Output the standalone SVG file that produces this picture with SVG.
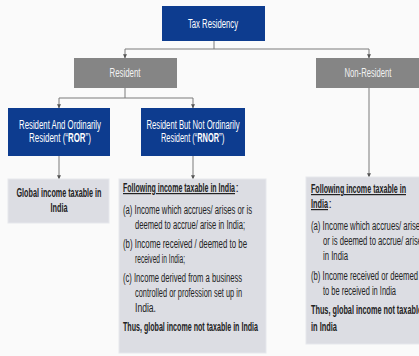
<svg xmlns="http://www.w3.org/2000/svg" width="419" height="356" viewBox="0 0 419 356">
  <style>
    text { font-family: "Liberation Sans", Arial, sans-serif; }
    .blue { fill: #0d3c8f; }
    .head { fill: #858585; }
    .panel { fill: #dcdde3; stroke: #e6e7ec; stroke-width: 1; }
    .lbl { fill: #ffffff; font-size: 12px; text-anchor: middle; }
    .lbls { fill: #ffffff; font-size: 12px; }
    .hlbl { fill: #f2f2f2; font-size: 12px; text-anchor: middle; }
    .body { fill: #222222; font-size: 12px; }
    .bold { font-weight: bold; }
    .ul { text-decoration: underline; }
    .wire { fill: none; stroke: #7a7a7a; stroke-width: 1; }
  </style>
  <defs>
    <marker id="tip" viewBox="0 0 6 6" refX="5.5" refY="3" markerWidth="4" markerHeight="4" orient="auto" markerUnits="userSpaceOnUse">
      <path d="M0,0 L6,3 L0,6 Z" fill="#555555"/>
    </marker>
  </defs>

  <rect width="419" height="356" fill="#fafafa"/>

  <!-- connectors -->
  <g id="connectors">
    <path class="wire" d="M214,41 V49"/>
    <path class="wire" d="M125,49 H369"/>
    <path class="wire" d="M125,49 V58" marker-end="url(#tip)"/>
    <path class="wire" d="M369,49 V58" marker-end="url(#tip)"/>
    <path class="wire" d="M125,88 V98"/>
    <path class="wire" d="M59,98 H193"/>
    <path class="wire" d="M59,98 V108" marker-end="url(#tip)"/>
    <path class="wire" d="M193,98 V108" marker-end="url(#tip)"/>
    <path class="wire" d="M59,156 V179" marker-end="url(#tip)"/>
    <path class="wire" d="M193,156 V179" marker-end="url(#tip)"/>
    <path class="wire" d="M369,88 V177" marker-end="url(#tip)"/>
  </g>

  <!-- top level -->
  <g id="tax-residency">
    <rect class="blue" x="162" y="6" width="103" height="35"/>
    <text class="lbl" x="213" y="28" textLength="50" lengthAdjust="spacingAndGlyphs">Tax Residency</text>
  </g>

  <g id="resident">
    <rect class="head" x="74" y="58" width="103" height="30"/>
    <text class="hlbl" x="125" y="77" textLength="31" lengthAdjust="spacingAndGlyphs">Resident</text>
  </g>

  <g id="non-resident">
    <rect class="head" x="316" y="58" width="110" height="30"/>
    <text class="hlbl" x="368" y="77" textLength="47" lengthAdjust="spacingAndGlyphs">Non-Resident</text>
  </g>

  <!-- resident categories -->
  <g id="ror">
    <rect class="blue" x="8" y="108" width="102" height="48"/>
    <text class="lbl" x="60" y="129" textLength="82" lengthAdjust="spacingAndGlyphs">Resident And Ordinarily</text>
    <text class="lbls" x="29" y="142" textLength="39" lengthAdjust="spacingAndGlyphs">Resident (“</text>
    <text class="lbls bold" x="68" y="142" textLength="17.5" lengthAdjust="spacingAndGlyphs">ROR</text>
    <text class="lbls" x="85.5" y="142" textLength="5.5" lengthAdjust="spacingAndGlyphs">”)</text>
  </g>

  <g id="rnor">
    <rect class="blue" x="141" y="108" width="104" height="48"/>
    <text class="lbl" x="193" y="129" textLength="93" lengthAdjust="spacingAndGlyphs">Resident But Not Ordinarily</text>
    <text class="lbls" x="161" y="142" textLength="36.3" lengthAdjust="spacingAndGlyphs">Resident (“</text>
    <text class="lbls bold" x="197.3" y="142" textLength="21.7" lengthAdjust="spacingAndGlyphs">RNOR</text>
    <text class="lbls" x="219" y="142" textLength="5.5" lengthAdjust="spacingAndGlyphs">”)</text>
  </g>

  <!-- tax treatment -->
  <g id="ror-income">
    <rect class="panel" x="8" y="179" width="101" height="44"/>
    <text class="body bold" x="59" y="197" text-anchor="middle" textLength="85" lengthAdjust="spacingAndGlyphs">Global income taxable in</text>
    <text class="body bold" x="59" y="212" text-anchor="middle" textLength="17" lengthAdjust="spacingAndGlyphs">India</text>
  </g>

  <g id="rnor-income">
    <rect class="panel" x="119" y="179" width="147" height="174"/>
    <text class="body bold ul" x="123" y="192" textLength="112" lengthAdjust="spacingAndGlyphs">Following income taxable in India</text>
    <text class="body" x="235.5" y="192">:</text>
    <text class="body" x="123" y="214" textLength="129" lengthAdjust="spacingAndGlyphs">(a) Income which accrues/ arises or is</text>
    <text class="body" x="135" y="229" textLength="110" lengthAdjust="spacingAndGlyphs">deemed to accrue/ arise in India;</text>
    <text class="body" x="123" y="248" textLength="124" lengthAdjust="spacingAndGlyphs">(b) Income received / deemed to be</text>
    <text class="body" x="135" y="263" textLength="50" lengthAdjust="spacingAndGlyphs">received in India;</text>
    <text class="body" x="123" y="282" textLength="119" lengthAdjust="spacingAndGlyphs">(c) Income derived from a business</text>
    <text class="body" x="135" y="297" textLength="107" lengthAdjust="spacingAndGlyphs">controlled or profession set up in</text>
    <text class="body" x="135" y="312" textLength="21" lengthAdjust="spacingAndGlyphs">India.</text>
    <text class="body bold" x="123" y="331" textLength="135" lengthAdjust="spacingAndGlyphs">Thus, global income not taxable in India</text>
  </g>

  <g id="nr-income">
    <rect class="panel" x="306" y="177" width="120" height="167"/>
    <text class="body bold ul" x="311" y="193" textLength="95" lengthAdjust="spacingAndGlyphs">Following income taxable in</text>
    <text class="body bold ul" x="311" y="208" textLength="17" lengthAdjust="spacingAndGlyphs">India</text>
    <text class="body" x="328.5" y="208">:</text>
    <text class="body" x="311" y="230" textLength="113" lengthAdjust="spacingAndGlyphs">(a) Income which accrues/ arises</text>
    <text class="body" x="323" y="245" textLength="99" lengthAdjust="spacingAndGlyphs">or is deemed to accrue/ arise</text>
    <text class="body" x="323" y="260" textLength="25" lengthAdjust="spacingAndGlyphs">in India</text>
    <text class="body" x="311" y="280" textLength="107" lengthAdjust="spacingAndGlyphs">(b) Income received or deemed</text>
    <text class="body" x="323" y="295" textLength="73" lengthAdjust="spacingAndGlyphs">to be received in India</text>
    <text class="body bold" x="311" y="314" textLength="111" lengthAdjust="spacingAndGlyphs">Thus, global income not taxable</text>
    <text class="body bold" x="311" y="331" textLength="26" lengthAdjust="spacingAndGlyphs">in India</text>
  </g>
</svg>
